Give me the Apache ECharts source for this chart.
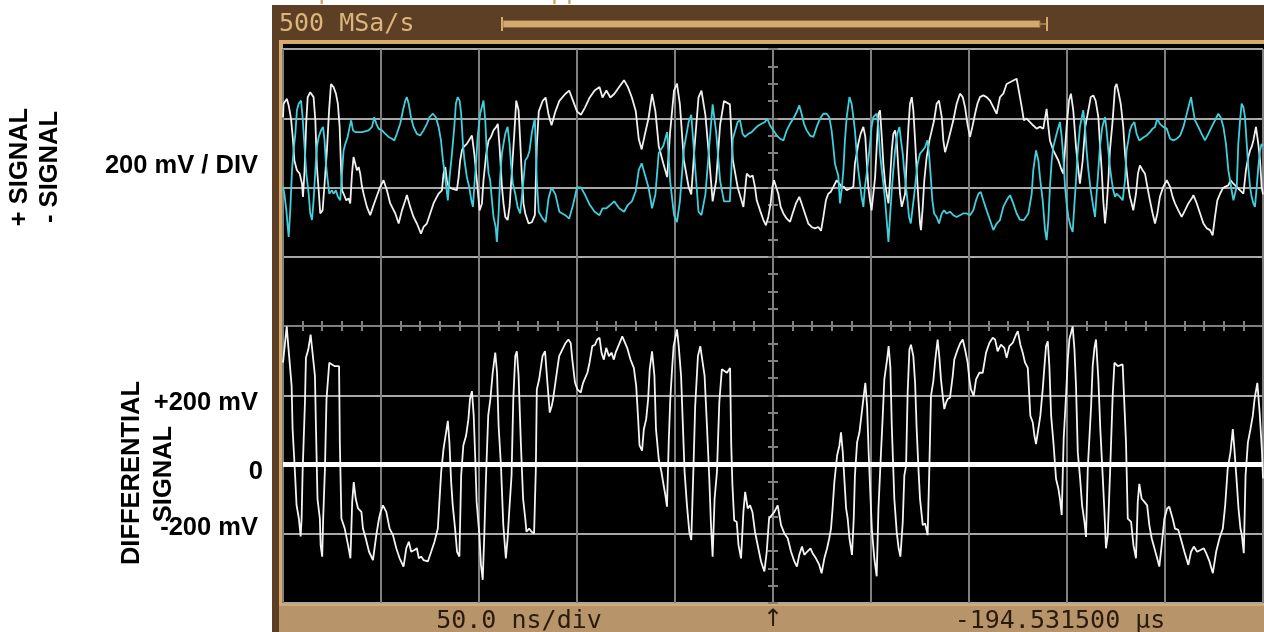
<!DOCTYPE html>
<html>
<head>
<meta charset="utf-8">
<title>Differential signal</title>
<script src="https://cdn.jsdelivr.net/npm/echarts@6/dist/echarts.min.js"></script>
<style>
html, body { margin: 0; padding: 0; background: #fff; }
#chart { width: 1264px; height: 632px; }
</style>
</head>
<body>
<div id="chart"></div>
<script>
// time in ns (trigger at 0), level in mV
const diffSignal = [
  [-250, 294], [-248.1, 399], [-247.3, 342], [-245.6, 227], [-245.1, 102], [-243.9, -22], [-243.1, -117], [-241.9, -156],
  [-241.0, -208], [-240.5, -156], [-240.0, -22], [-238.8, 179], [-238.3, 308], [-237.1, 332], [-235.9, 375], [-235.1, 332],
  [-233.7, 256], [-233.2, 112], [-232.4, -99], [-231.2, -156], [-230.8, -233], [-230.0, -266], [-229.5, -156], [-228.6, -12],
  [-227.8, 189], [-226.4, 294], [-223.6, 284], [-221.4, 284], [-221.0, 64], [-220.2, -156], [-218.5, -185], [-216.8, -233],
  [-215.6, -271], [-214.7, -108], [-213.9, -51], [-212.9, -99], [-211.7, -127], [-210.0, -137], [-209.2, -185], [-207.8, -213],
  [-206.1, -252], [-204.1, -276], [-202.4, -204], [-201.0, -156], [-200.2, -137], [-199.0, -118], [-197.3, -137], [-195.6, -185],
  [-193.9, -204], [-192.2, -242], [-190.5, -271], [-188.5, -295], [-187.1, -242], [-185.8, -223], [-184.6, -252], [-182.9, -247],
  [-181.7, -242], [-180.7, -271], [-179.5, -266], [-178.3, -276], [-176.1, -280], [-174.4, -252], [-172.7, -223], [-171.0, -185],
  [-170.2, -108], [-169.3, -22], [-168.1, 45], [-166.8, 93], [-165.9, 126], [-165.1, 64], [-164.2, -51], [-163.4, -118],
  [-162.2, -185], [-161.2, -252], [-160.0, -266], [-159.1, -32], [-158.0, 55], [-156.6, 83], [-155.4, 131], [-154.6, 189],
  [-153.6, 212], [-152.7, 141], [-151.9, 16], [-151.2, -108], [-149.8, -204], [-149.0, -290], [-148.1, -333], [-147.3, -204],
  [-146.4, -32], [-145.3, 141], [-144.2, 189], [-143.0, 265], [-141.7, 323], [-140.8, 265], [-140.0, 112], [-138.8, -3],
  [-137.6, -175], [-136.3, -271], [-135.4, -213], [-134.6, -137], [-133.4, -32], [-132.5, 189], [-131.5, 313], [-130.7, 327],
  [-129.8, 256], [-128.6, 55], [-127.5, -99], [-126.4, -156], [-125.8, -194], [-124.4, -185], [-123.2, -194], [-121.9, -199],
  [-121.0, -12], [-120.5, 217], [-119.3, 246], [-117.6, 313], [-116.3, 327], [-115.1, 236], [-113.9, 150], [-112.9, 169],
  [-112.2, 189], [-110.8, 246], [-109.1, 313], [-107.5, 332], [-105.8, 351], [-104.4, 361], [-103.2, 351], [-102.4, 303],
  [-101.0, 236], [-99.8, 217], [-98.1, 208], [-96.9, 236], [-94.7, 265], [-93.6, 294], [-92.2, 342], [-90.8, 346],
  [-89.7, 361], [-88.5, 366], [-87.5, 323], [-86.3, 303], [-85.1, 337], [-83.7, 313], [-82.4, 323], [-81.2, 303],
  [-80.3, 323], [-78.6, 346], [-76.9, 370], [-76.1, 375], [-74.4, 337], [-72.7, 303], [-71.0, 279], [-69.8, 227],
  [-68.8, 131], [-68.1, 55], [-66.8, 40], [-65.9, 102], [-64.7, 131], [-63.7, 189], [-62.9, 275], [-61.7, 327],
  [-60.5, 256], [-59.7, 102], [-58.3, 16], [-56.9, -22], [-55.8, -60], [-54.9, -89], [-54.1, -122], [-53.2, 64],
  [-52.4, 189], [-51.5, 275], [-50.7, 342], [-49.0, 390], [-48.1, 342], [-46.9, 256], [-46.1, 131], [-45.1, -22],
  [-43.9, -118], [-42.7, -194], [-41.7, -218], [-40.5, 7], [-39.7, 169], [-38.3, 313], [-37.1, 342], [-36.3, 337],
  [-34.9, 256], [-33.7, 112], [-32.5, -41], [-31.7, -166], [-30.8, -266], [-29.8, -99], [-28.6, -22], [-27.4, 179],
  [-26.1, 275], [-23.5, 265], [-21.9, 279], [-21.3, 55], [-20.7, -60], [-19.8, -161], [-18.5, -166], [-17.6, -233],
  [-16.3, -271], [-15.1, -137], [-14.2, -79], [-12.9, -127], [-11.7, -118], [-10.5, -137], [-9.2, -194], [-7.5, -242],
  [-6.1, -280], [-4.4, -309], [-3.2, -252], [-2.0, -156], [0.7, -137], [2.4, -118], [4.1, -175], [5.8, -199],
  [7.5, -213], [9.2, -252], [10.9, -280], [12.2, -295], [13.4, -261], [14.8, -237], [16.0, -261], [17.4, -252],
  [19.1, -242], [20.2, -256], [21.9, -271], [23.6, -290], [24.8, -314], [26.2, -271], [27.6, -242], [28.7, -213],
  [29.6, -185], [30.4, -127], [31.3, -51], [32.7, 26], [33.9, 55], [34.7, 93], [35.6, 35], [36.4, -41],
  [37.3, -127], [38.1, -156], [39.0, -213], [40.3, -261], [41.2, -156], [41.8, -32], [42.9, 64], [44.1, 93],
  [44.9, 131], [46.3, 198], [47.1, 236], [48.0, 169], [48.8, 35], [49.7, -89], [50.5, -194], [51.7, -271],
  [52.9, -323], [53.8, -127], [55.1, 35], [56.0, 141], [56.8, 246], [58.2, 303], [59.0, 342], [59.9, 279],
  [60.6, 112], [61.9, -99], [63.1, -194], [64.1, -242], [65.0, -266], [66.2, -166], [67.0, -32], [67.9, -3],
  [68.7, 208], [69.6, 332], [70.4, 346], [71.6, 313], [72.5, 236], [73.3, 102], [74.3, -22], [75.0, -99],
  [76.4, -175], [77.6, -170], [78.9, -204], [79.8, -3], [80.6, 198], [81.8, 241], [82.8, 303], [84.0, 361],
  [84.9, 308], [85.7, 246], [86.6, 198], [87.4, 160], [88.3, 179], [89.1, 189], [90.3, 193], [91.7, 256],
  [92.5, 303], [94.2, 332], [95.6, 351], [96.8, 361], [98.0, 332], [99.3, 294], [100.2, 246], [101.0, 217],
  [102.4, 198], [103.6, 246], [105.3, 265], [107.0, 265], [108.7, 323], [110.4, 351], [112.1, 366], [113.3, 361],
  [114.6, 327], [116.3, 346], [118.0, 337], [119.2, 308], [120.6, 342], [122.3, 351], [124.0, 375], [124.9, 385],
  [126.2, 346], [127.4, 323], [128.6, 294], [130.0, 279], [131.3, 141], [132.5, 122], [133.4, 83], [134.2, 59],
  [135.1, 93], [136.4, 141], [137.6, 217], [138.5, 284], [139.3, 342], [140.2, 356], [141.0, 284], [141.9, 141],
  [143.2, 55], [144.4, -41], [145.6, -70], [146.5, -103], [147.3, -146], [148.3, 74], [149.5, 198], [150.4, 303],
  [151.2, 361], [152.9, 399], [153.8, 332], [154.6, 227], [155.5, 35], [156.7, -41], [157.7, -118], [158.9, -166],
  [159.7, -209], [160.6, -12], [161.4, -12], [162.3, 169], [163.1, 284], [164.0, 337], [164.8, 361], [166.0, 246],
  [167.0, 102], [168.2, -32], [169.1, -137], [169.9, -242], [170.8, -204], [172.1, -3], [173.3, 198], [174.2, 294],
  [175.9, 284], [178.4, 289], [179.3, 284], [180.1, 64], [181.0, -156], [182.7, -166], [183.9, -233], [185.2, -271],
  [186.1, -108], [186.9, -56], [188.1, -99], [189.5, -108], [190.9, -118], [192.0, -175], [193.2, -213], [194.6, -242],
  [196.0, -271], [197.1, -295], [198.3, -233], [199.7, -156], [201.1, -127], [202.2, -122], [203.9, -156], [205.1, -185],
  [206.8, -189], [208.5, -223], [209.9, -252], [211.9, -290], [213.3, -252], [214.7, -237], [216.4, -252], [218.1, -247],
  [219.8, -242], [221.0, -256], [222.7, -280], [224.4, -314], [226.1, -252], [227.8, -213], [229.5, -185], [230.7, -118],
  [232.0, -12], [233.4, 35], [234.6, 102], [235.4, 45], [236.6, -51], [237.5, -127], [238.5, -185], [239.2, -204],
  [240.2, -256], [241.1, -32], [242.3, 64], [243.6, 102], [244.8, 141], [245.7, 189], [247.1, 236], [248.3, 150],
  [249.5, 35], [250, -40]
];

// + signal (white trace), mV relative to screen centre
const plusSignal = [
  [-250, 603], [-249.7, 642], [-248.0, 656], [-247.1, 637], [-245.9, 599], [-244.9, 536], [-244.2, 478], [-242.9, 450],
  [-241.5, 440], [-240.3, 411], [-239.8, 373], [-239.0, 450], [-238.1, 594], [-237.4, 661], [-236.1, 675], [-235.2, 671],
  [-234.4, 661], [-233.5, 594], [-232.7, 459], [-231.8, 392], [-231.0, 325], [-229.8, 334], [-228.9, 402], [-227.6, 507],
  [-226.5, 622], [-225.5, 699], [-224.2, 690], [-223.0, 671], [-222.0, 642], [-221.1, 575], [-220.4, 459], [-219.9, 392],
  [-219.1, 382], [-217.7, 363], [-216.5, 368], [-215.7, 354], [-214.8, 440], [-214.0, 488], [-213.1, 483], [-212.3, 450],
  [-211.4, 459], [-210.6, 440], [-209.7, 402], [-208.5, 373], [-207.2, 344], [-205.5, 320], [-204.1, 344], [-202.9, 363],
  [-201.7, 382], [-200.4, 402], [-198.7, 421], [-197.0, 392], [-195.3, 354], [-192.7, 325], [-191.0, 296], [-189.3, 334],
  [-187.6, 363], [-186.8, 378], [-185.1, 344], [-183.4, 315], [-181.7, 296], [-179.6, 267], [-178.3, 286], [-176.6, 296],
  [-174.9, 325], [-173.2, 354], [-171.5, 373], [-170.6, 382], [-168.9, 392], [-168.1, 440], [-167.2, 459], [-166.4, 421],
  [-165.5, 402], [-163.8, 397], [-161.3, 392], [-160.4, 430], [-159.6, 478], [-158.7, 507], [-157.9, 517], [-156.2, 526],
  [-153.6, 550], [-152.4, 498], [-151.1, 421], [-149.7, 334], [-148.5, 354], [-147.7, 421], [-146.3, 498], [-145.1, 536],
  [-143.9, 546], [-142.6, 565], [-141.2, 575], [-140.4, 584], [-139.5, 517], [-138.3, 402], [-137.5, 354], [-136.6, 315],
  [-135.4, 306], [-134.4, 344], [-133.2, 450], [-132.0, 555], [-131.0, 651], [-129.8, 623], [-129.0, 536], [-128.1, 430],
  [-127.3, 354], [-126.4, 325], [-124.7, 296], [-123, 300], [-121.5, 320], [-120.5, 520], [-119.5, 620], [-117.5, 650],
  [-116, 660], [-114.5, 610], [-113, 580], [-111, 620], [-109, 650], [-106, 670], [-104, 680], [-102, 650],
  [-100, 620], [-98, 610], [-96, 630], [-93.5, 660], [-91, 680], [-88.5, 690], [-87, 660], [-85, 680],
  [-83, 660], [-81, 670], [-78.5, 690], [-76, 710], [-74, 690], [-72, 660], [-70, 620], [-68.5, 540],
  [-67, 510], [-65.5, 550], [-63.5, 600], [-61.7, 670], [-60, 620], [-58.3, 520], [-56, 470], [-54, 430],
  [-52.5, 560], [-50.5, 680], [-49, 700], [-47.5, 640], [-45.5, 480], [-43, 400], [-41.7, 380], [-40, 520],
  [-38, 660], [-36.5, 680], [-34.5, 610], [-32.5, 480], [-30.8, 360], [-29, 420], [-27, 580], [-25, 650],
  [-22, 640], [-20.5, 480], [-18, 400], [-15.1, 344], [-13.4, 440], [-11.7, 430], [-10.4, 435], [-9.2, 402],
  [-8.3, 363], [-6.6, 334], [-4.9, 306], [-3.6, 291], [-2.4, 315], [-1.2, 354], [-0.3, 402], [0.5, 421],
  [1.5, 416], [2.7, 382], [3.9, 344], [5.3, 325], [7.0, 310], [8.7, 301], [10.0, 325], [11.7, 354],
  [13.4, 373], [14.6, 354], [16.3, 325], [18.0, 296], [19.7, 286], [21.4, 282], [23.1, 286], [24.5, 275],
  [25.7, 315], [27.0, 363], [28.2, 382], [29.4, 387], [30.8, 402], [32.5, 421], [33.9, 411], [35.0, 402],
  [36.2, 402], [37.6, 392], [39.3, 397], [41.0, 402], [41.8, 469], [42.7, 498], [43.5, 526], [44.7, 555],
  [46.1, 575], [47.1, 546], [47.8, 478], [48.6, 402], [49.5, 363], [50.3, 334], [51.2, 330], [52.1, 430],
  [52.9, 517], [53.8, 613], [54.6, 623], [55.5, 546], [56.3, 469], [57.2, 411], [58.0, 382], [58.9, 354],
  [59.7, 421], [60.6, 507], [61.4, 555], [62.3, 565], [63.1, 536], [64.0, 450], [64.8, 382], [65.7, 344],
  [66.5, 339], [67.4, 382], [68.2, 478], [69.1, 575], [69.9, 642], [70.8, 661], [71.6, 623], [72.5, 536],
  [73.3, 450], [74.2, 363], [75.0, 296], [75.5, 277], [76.4, 344], [77.2, 421], [78.4, 488], [79.8, 536],
  [81.0, 565], [82.2, 594], [83.5, 642], [84.7, 651], [86.1, 603], [86.9, 536], [87.8, 502], [89.0, 526],
  [90.3, 555], [92.0, 594], [93.7, 642], [95.4, 671], [96.8, 661], [98.0, 632], [99.2, 584], [100.5, 546],
  [101.7, 575], [103.1, 613], [104.3, 642], [105.6, 661], [107.3, 666], [109.0, 661], [110.7, 651], [112.4, 632],
  [114.1, 613], [115.8, 661], [117.5, 671], [119.2, 699], [120.9, 704], [122.6, 709], [124.3, 714], [125.7, 671],
  [126.9, 632], [128.0, 594], [129.4, 599], [131.1, 589], [132.8, 579], [134.5, 570], [136.2, 575], [137.9, 570],
  [139.6, 627], [140.5, 575], [141.3, 536], [143.0, 507], [145.6, 478], [147.3, 450], [148.1, 440], [149.8, 575],
  [151.0, 651], [152.0, 671], [153.2, 623], [154.6, 517], [155.8, 450], [156.6, 411], [158.0, 478], [159.3, 575],
  [160.9, 623], [162.1, 661], [163.4, 666], [164.6, 651], [166.0, 603], [166.8, 526], [167.7, 450], [168.5, 363],
  [169.4, 296], [170.2, 344], [171.1, 421], [171.9, 507], [173.3, 594], [174.5, 690], [175.3, 699], [176.4, 671],
  [177.4, 642], [178.7, 575], [179.6, 498], [180.4, 450], [181.3, 402], [182.1, 373], [183.0, 354], [183.8, 334],
  [185.2, 382], [186.2, 440], [187.2, 464], [188.6, 450], [189.8, 440], [191.0, 402], [192.3, 363], [193.7, 325],
  [194.9, 296], [196.1, 325], [197.4, 373], [199.1, 402], [200.9, 421], [202.6, 402], [203.9, 373], [205.1, 354],
  [206.8, 334], [208.5, 315], [210.2, 334], [211.9, 354], [213.6, 368], [214.5, 378], [216.2, 354], [217.9, 325],
  [219.6, 296], [221.3, 282], [223.0, 277], [224.3, 262], [225.5, 315], [226.7, 363], [228.1, 382], [229.4, 397],
  [230.6, 402], [232.3, 406], [233.5, 421], [234.9, 411], [236.6, 402], [238.3, 392], [240.0, 382], [241.3, 450],
  [242.5, 488], [243.4, 507], [244.2, 517], [245.1, 536], [246.4, 575], [247.6, 526], [248.5, 478], [249.3, 402],
  [250, 380]
];

// - signal (cyan trace), mV relative to screen centre
const minusSignal = [
  [-250, 402], [-249.3, 382], [-248.3, 334], [-247.1, 257], [-246.3, 334], [-245.4, 450], [-244.6, 507], [-243.7, 555],
  [-242.9, 623], [-242.0, 642], [-240.8, 651], [-240.0, 603], [-239.1, 526], [-238.1, 440], [-236.9, 382], [-236.1, 325],
  [-235.2, 306], [-234.4, 363], [-233.5, 450], [-232.7, 517], [-231.8, 546], [-230.6, 565], [-229.6, 575], [-228.8, 536],
  [-228.1, 469], [-227.2, 421], [-226.4, 382], [-225.0, 392], [-224.2, 382], [-223.0, 392], [-222.0, 373], [-220.8, 363],
  [-219.9, 440], [-219.1, 507], [-218.2, 526], [-217.0, 546], [-216.0, 575], [-215.2, 594], [-214.3, 565], [-213.1, 560],
  [-209.7, 560], [-206.3, 565], [-204.6, 575], [-203.4, 603], [-202.4, 584], [-201.2, 570], [-199.5, 565], [-197.8, 555],
  [-196.1, 546], [-194.4, 541], [-193.2, 536], [-191.9, 555], [-190.2, 584], [-188.8, 623], [-187.6, 651], [-186.8, 661],
  [-185.9, 642], [-184.7, 603], [-183.4, 575], [-181.7, 555], [-180.0, 550], [-178.3, 565], [-176.6, 584], [-175.2, 603],
  [-173.5, 613], [-172.0, 603], [-170.6, 575], [-169.4, 536], [-168.4, 478], [-167.7, 450], [-166.7, 402], [-165.9, 363],
  [-165.0, 430], [-163.8, 498], [-162.6, 575], [-161.8, 642], [-160.9, 661], [-159.9, 651], [-159.1, 613], [-158.2, 526],
  [-157.4, 478], [-156.2, 430], [-155.0, 402], [-153.9, 363], [-153.1, 344], [-152.3, 411], [-151.4, 478], [-150.7, 546],
  [-149.4, 613], [-147.7, 651], [-146.8, 594], [-146.0, 498], [-145.1, 440], [-144.3, 421], [-143.4, 363], [-142.6, 315],
  [-141.5, 286], [-140.9, 243], [-140.0, 325], [-139.2, 430], [-138.3, 498], [-137.5, 526], [-136.6, 555], [-135.4, 575],
  [-134.4, 526], [-133.7, 469], [-132.7, 411], [-131.5, 382], [-130.3, 344], [-129.0, 325], [-127.6, 402], [-126.4, 478],
  [-125.2, 488], [-124.2, 507], [-123, 560], [-121.5, 600], [-120.5, 420], [-119.5, 330], [-117.5, 310], [-116, 300],
  [-114.5, 370], [-113, 400], [-111, 380], [-109, 330], [-106, 320], [-104, 310], [-102, 350], [-100, 400],
  [-98, 400], [-96, 380], [-93.5, 350], [-91, 330], [-88.5, 320], [-87, 340], [-85, 340], [-83, 350],
  [-81, 360], [-78.5, 340], [-76, 330], [-74, 350], [-72, 360], [-70, 390], [-68.5, 450], [-67, 470],
  [-65.5, 440], [-63.5, 400], [-61.7, 340], [-60, 380], [-58.3, 500], [-56, 520], [-54, 560], [-52.5, 420],
  [-50.5, 320], [-49, 300], [-47.5, 360], [-45.5, 510], [-43, 590], [-41.7, 610], [-40, 480], [-38, 330],
  [-36.5, 320], [-34.5, 380], [-32.5, 520], [-30.8, 640], [-29, 560], [-27, 420], [-25, 360], [-22, 360],
  [-20.5, 540], [-18, 590], [-16.8, 594], [-15.5, 555], [-14.3, 546], [-12.6, 555], [-10.9, 560], [-9.2, 570],
  [-7.5, 579], [-5.8, 584], [-4.1, 589], [-2.9, 599], [-1.5, 579], [0.2, 565], [1.9, 550], [3.6, 541],
  [5.3, 536], [7.0, 565], [8.7, 584], [10.4, 599], [12.1, 618], [13.4, 637], [14.6, 613], [15.8, 584],
  [17.2, 565], [18.9, 550], [20.6, 546], [22.3, 575], [24.0, 599], [25.7, 613], [27.4, 613], [28.7, 603],
  [29.9, 565], [30.8, 517], [31.6, 469], [32.5, 450], [33.3, 435], [34.2, 354], [35.0, 392], [35.9, 450],
  [36.7, 536], [37.6, 603], [39.0, 661], [40.1, 642], [41.0, 603], [41.8, 565], [42.7, 498], [43.5, 450],
  [44.4, 411], [45.2, 373], [46.1, 344], [46.9, 402], [47.8, 440], [48.6, 478], [49.5, 526], [50.3, 575],
  [51.2, 603], [52.1, 608], [52.9, 613], [53.8, 575], [54.6, 498], [55.5, 450], [56.3, 411], [57.2, 363],
  [58.0, 306], [58.9, 243], [59.7, 315], [60.6, 392], [61.4, 450], [62.3, 507], [63.4, 555], [64.5, 575],
  [65.3, 536], [66.2, 498], [66.9, 450], [67.7, 411], [68.6, 363], [69.4, 315], [70.3, 296], [71.3, 344],
  [72.1, 382], [73.0, 430], [73.8, 469], [75.0, 498], [76.4, 507], [77.6, 517], [78.8, 536], [79.6, 498],
  [80.5, 430], [81.3, 363], [82.2, 325], [83.5, 315], [84.7, 296], [86.1, 325], [87.3, 334], [88.6, 325],
  [90.3, 330], [92.0, 320], [93.7, 315], [95.4, 320], [97.1, 325], [98.8, 325], [100.5, 320], [102.2, 334],
  [103.6, 363], [104.8, 382], [106.0, 387], [107.3, 363], [109.0, 334], [110.7, 306], [112.4, 277], [114.1, 296],
  [115.8, 306], [117.5, 344], [119.2, 363], [120.9, 378], [122.6, 354], [124.3, 325], [126.0, 307], [128.0, 306],
  [130.3, 325], [132.0, 382], [132.8, 450], [134.2, 507], [135.4, 478], [136.2, 430], [137.6, 363], [138.8, 277],
  [139.6, 248], [140.5, 306], [141.3, 402], [142.2, 478], [143.0, 517], [144.7, 555], [146.4, 589], [147.3, 546],
  [148.1, 488], [149.0, 402], [149.8, 354], [150.7, 315], [151.9, 286], [152.9, 272], [153.7, 344], [154.6, 421],
  [155.4, 498], [156.6, 575], [158.3, 623], [159.2, 575], [160.0, 507], [160.9, 450], [162.1, 392], [163.4, 344],
  [164.3, 315], [165.1, 382], [166.0, 450], [166.8, 517], [168.0, 575], [169.4, 603], [170.2, 565], [171.1, 507],
  [171.9, 459], [172.8, 421], [173.6, 392], [174.5, 373], [175.3, 382], [177.0, 373], [178.4, 363], [179.6, 421],
  [180.4, 507], [181.3, 536], [182.1, 565], [183.0, 579], [184.4, 589], [185.5, 555], [186.9, 536], [188.1, 541],
  [189.3, 546], [190.6, 550], [192.3, 560], [193.7, 570], [194.9, 575], [196.1, 599], [197.4, 584], [199.1, 575],
  [200.9, 570], [202.6, 541], [204.3, 536], [206.0, 541], [207.7, 550], [209.4, 575], [211.1, 613], [212.4, 642],
  [213.3, 661], [214.1, 632], [215.3, 594], [217.0, 575], [218.7, 555], [220.4, 536], [222.1, 555], [223.8, 575],
  [225.5, 594], [227.2, 613], [228.4, 603], [229.8, 575], [231.1, 526], [232.3, 450], [233.2, 421], [234.0, 392],
  [234.9, 363], [235.7, 382], [236.6, 402], [237.4, 526], [238.3, 594], [239.1, 642], [240.0, 632], [240.8, 603],
  [241.7, 526], [242.5, 459], [243.4, 402], [244.2, 373], [245.1, 354], [245.9, 344], [246.8, 402], [247.6, 459],
  [248.5, 507], [249.3, 526], [250, 520]
];

const scaleLabels = ['+200 mV', '0', '-200 mV'];
const readouts = ['500 MSa/s', '50.0 ns/div', '\u2191', '-194.531500 \u00b5s'];

const sans = '"Liberation Sans", Arial, sans-serif';
const mono = '"DejaVu Sans Mono", "Liberation Mono", monospace';
const vLine = '#808080';
const hLine = '#a8a8a8';
const tan = '#d6aa6c';
const brown = '#5c3f24';
const labelFont = 'bold 25.5px ' + sans;

function centreAxis(position, range, split, minor, axisIdx, showSplit, splitColor) {
  return {
    type: 'value', min: range[0], max: range[1], interval: split, position: position,
    axisLine: { show: true, onZero: true, onZeroAxisIndex: axisIdx, lineStyle: { color: vLine, width: 2 } },
    axisTick: { show: true, length: 5, lineStyle: { color: vLine, width: 2 } },
    minorTick: { show: true, splitNumber: minor, length: 5, lineStyle: { color: vLine, width: 2 } },
    axisLabel: { show: false },
    splitLine: { show: showSplit, lineStyle: { color: splitColor, width: 2 } }
  };
}

function label(text, x, y, align, rotated) {
  return {
    type: 'text', x: x, y: y, rotation: rotated ? Math.PI / 2 : 0,
    style: { text: text, font: labelFont, fill: '#000', textAlign: align, textVerticalAlign: 'middle' }
  };
}

const chart = echarts.init(document.getElementById('chart'));
chart.setOption({
  animation: false,
  backgroundColor: '#fff',
  grid: { left: 283, top: 49, width: 980, height: 554, show: true, backgroundColor: '#000', borderWidth: 0 },
  xAxis: [
    centreAxis('bottom', [-250, 250], 50, 5, 1, true, vLine),
    centreAxis('top', [-250, 250], 50, 5, 1, false, vLine)
  ],
  yAxis: [
    centreAxis('left', [-400, 1200], 200, 4, 0, true, hLine),
    centreAxis('right', [-800, 800], 200, 4, 0, false, hLine)
  ],
  graphic: [
    { type: 'rect', shape: { x: 272, y: 5, width: 992, height: 35 }, style: { fill: brown } },
    { type: 'rect', shape: { x: 272, y: 5, width: 7, height: 627 }, style: { fill: brown } },
    { type: 'rect', shape: { x: 279, y: 40, width: 985, height: 4 }, style: { fill: tan } },
    { type: 'rect', shape: { x: 279, y: 40, width: 4, height: 566 }, style: { fill: tan } },
    { type: 'rect', shape: { x: 283, y: 44, width: 981, height: 5 }, style: { fill: '#000' } },
    { type: 'rect', shape: { x: 279, y: 603, width: 985, height: 3 }, style: { fill: tan } },
    { type: 'rect', shape: { x: 279, y: 606, width: 985, height: 26 }, style: { fill: '#b8946a' } },
    // timebase window bar
    { type: 'rect', shape: { x: 503, y: 20.5, width: 537, height: 7 }, style: { fill: tan, stroke: '#8a6a40', lineWidth: 1 } },
    { type: 'line', shape: { x1: 502, y1: 17, x2: 502, y2: 31 }, style: { stroke: tan, lineWidth: 2 } },
    { type: 'line', shape: { x1: 1040, y1: 24, x2: 1047, y2: 24 }, style: { stroke: tan, lineWidth: 1 } },
    { type: 'line', shape: { x1: 1047, y1: 17, x2: 1047, y2: 31 }, style: { stroke: tan, lineWidth: 2 } },
    { type: 'text', x: 280, y: 5, style: { text: 'Acquisition is Stopped', font: '25px ' + mono, fill: '#c9a06a', textVerticalAlign: 'bottom' } },
    { type: 'text', x: 279, y: 24, style: { text: readouts[0], font: '25px ' + mono, fill: '#dcb47c', textVerticalAlign: 'middle' } },
    { type: 'text', x: 519, y: 621, style: { text: readouts[1], font: '25px ' + mono, fill: '#2a1c0c', textAlign: 'center', textVerticalAlign: 'middle' } },
    { type: 'text', x: 773, y: 620, style: { text: readouts[2], font: '24px "DejaVu Sans", sans-serif', fill: '#2a1c0c', textAlign: 'center', textVerticalAlign: 'middle' } },
    { type: 'text', x: 1060, y: 621, style: { text: readouts[3], font: '25px ' + mono, fill: '#2a1c0c', textAlign: 'center', textVerticalAlign: 'middle' } },
    // left-hand annotations
    label('+ SIGNAL', 20, 167, 'center', true),
    label('- SIGNAL', 50, 167, 'center', true),
    label('200 mV / DIV', 258, 166, 'right', false),
    label('DIFFERENTIAL', 132, 473, 'center', true),
    label('SIGNAL', 164, 474, 'center', true),
    label(scaleLabels[0], 258, 403, 'right', false),
    label(scaleLabels[1], 263, 472, 'right', false),
    label(scaleLabels[2], 258, 528, 'right', false)
  ],
  series: [
    {
      name: 'differential', type: 'line', xAxisIndex: 0, yAxisIndex: 0, data: diffSignal,
      showSymbol: false, lineStyle: { color: '#f4f4f4', width: 1.8 },
      markLine: {
        silent: true, symbol: 'none', label: { show: false },
        lineStyle: { color: '#fff', width: 5, type: 'solid' },
        data: [{ yAxis: 0 }]
      }
    },
    {
      name: '+ signal', type: 'line', xAxisIndex: 0, yAxisIndex: 1, data: plusSignal,
      showSymbol: false, lineStyle: { color: '#f0f0f0', width: 1.8 }
    },
    {
      name: '- signal', type: 'line', xAxisIndex: 0, yAxisIndex: 1, data: minusSignal,
      showSymbol: false, lineStyle: { color: '#40cfdc', width: 1.8 }
    }
  ]
});
</script>
</body>
</html>
